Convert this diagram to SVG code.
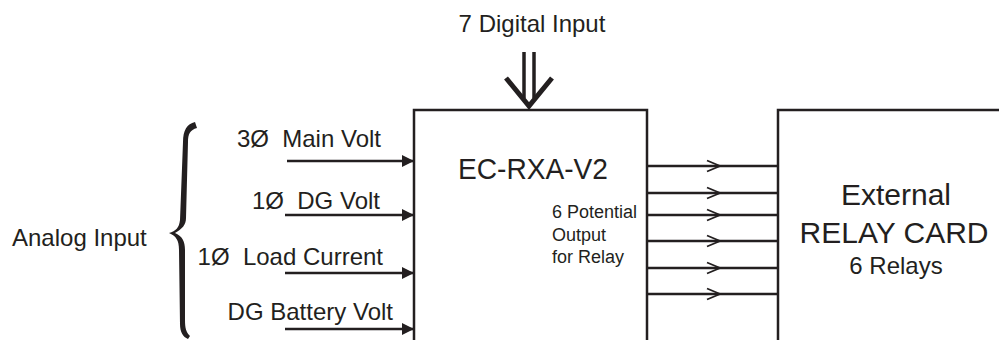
<svg xmlns="http://www.w3.org/2000/svg" width="999" height="340" viewBox="0 0 999 340">
<style>
text{font-family:"Liberation Sans",Arial,sans-serif;fill:#231f20}
.lbl{font-size:24px}
.sm{font-size:18px}
.box{fill:#fff;stroke:#231f20;stroke-width:2.5}
.in{stroke:#231f20;stroke-width:2.5;fill:none}
.out{stroke:#231f20;stroke-width:2.5;fill:none}
.chev{stroke:#231f20;stroke-width:1.8;fill:none}
</style>
<defs>
<marker id="tri" markerWidth="12" markerHeight="12" refX="10" refY="5" orient="auto" markerUnits="userSpaceOnUse" viewBox="0 0 10 10">
<path d="M0,0 L10,5 L0,10 Z" fill="#231f20"/>
</marker>
</defs>
<rect width="999" height="340" fill="#fff"/>
<g id="controller">
<rect class="box" x="414" y="110" width="233" height="245"/>
<text x="458" y="179" style="font-size:30px" textLength="150" lengthAdjust="spacingAndGlyphs">EC-RXA-V2</text>
<text class="sm" x="552" y="218">6 Potential</text>
<text class="sm" x="552" y="241">Output</text>
<text class="sm" x="552" y="263">for Relay</text>
</g>
<g id="relay-card">
<rect class="box" x="778" y="110" width="240" height="245"/>
<text x="896" y="205" text-anchor="middle" style="font-size:30px">External</text>
<text x="894" y="243" text-anchor="middle" style="font-size:30px">RELAY CARD</text>
<text class="lbl" x="896" y="274" text-anchor="middle">6 Relays</text>
</g>
<g id="digital-input">
<text class="lbl" x="532" y="32" text-anchor="middle">7 Digital Input</text>
</g>
<g id="analog-input">
<text class="lbl" x="12" y="246">Analog Input</text>
<path d="M195,122 C187,124 183,130 183,142 L180,220 C179,228 176,231 169,233 C176,236 179,240 179,250 L180,324 C180,332 183,337 188,339 L190,336 C186,332 185,328 185,320 L185,250 C185,241 182,236 175,233 C182,229 186,225 186,218 L188,142 C188,134 190,130 197,128 Z" fill="#231f20"/>
<text class="lbl" x="381" y="147" text-anchor="end" xml:space="preserve">3Ø  Main Volt</text>
<text class="lbl" x="380" y="209" text-anchor="end" xml:space="preserve">1Ø  DG Volt</text>
<text class="lbl" x="383" y="265" text-anchor="end" xml:space="preserve">1Ø  Load Current</text>
<text class="lbl" x="393" y="320" text-anchor="end">DG Battery Volt</text>
</g>
<g id="connectors">
<line x1="524" y1="52" x2="524" y2="98" stroke="#231f20" stroke-width="3.5"/>
<line x1="534" y1="52" x2="534" y2="98" stroke="#231f20" stroke-width="3.5"/>
<polyline points="506,78 529,106 552,78" fill="none" stroke="#231f20" stroke-width="5"/>
<line class="in" x1="287" y1="161" x2="414" y2="161" marker-end="url(#tri)"/>
<line class="in" x1="285" y1="215" x2="414" y2="215" marker-end="url(#tri)"/>
<line class="in" x1="285" y1="273" x2="414" y2="273" marker-end="url(#tri)"/>
<line class="in" x1="285" y1="329" x2="414" y2="329" marker-end="url(#tri)"/>
<line class="out" x1="647" y1="166" x2="778" y2="166"/>
<line class="out" x1="647" y1="193" x2="778" y2="193"/>
<line class="out" x1="647" y1="215" x2="778" y2="215"/>
<line class="out" x1="647" y1="241" x2="778" y2="241"/>
<line class="out" x1="647" y1="268" x2="778" y2="268"/>
<line class="out" x1="647" y1="294" x2="778" y2="294"/>
<polyline class="chev" points="707,160.5 720,166 707,171.5"/>
<polyline class="chev" points="707,187.5 720,193 707,198.5"/>
<polyline class="chev" points="707,209.5 720,215 707,220.5"/>
<polyline class="chev" points="707,235.5 720,241 707,246.5"/>
<polyline class="chev" points="707,262.5 720,268 707,273.5"/>
<polyline class="chev" points="707,288.5 720,294 707,299.5"/>
</g>
</svg>
